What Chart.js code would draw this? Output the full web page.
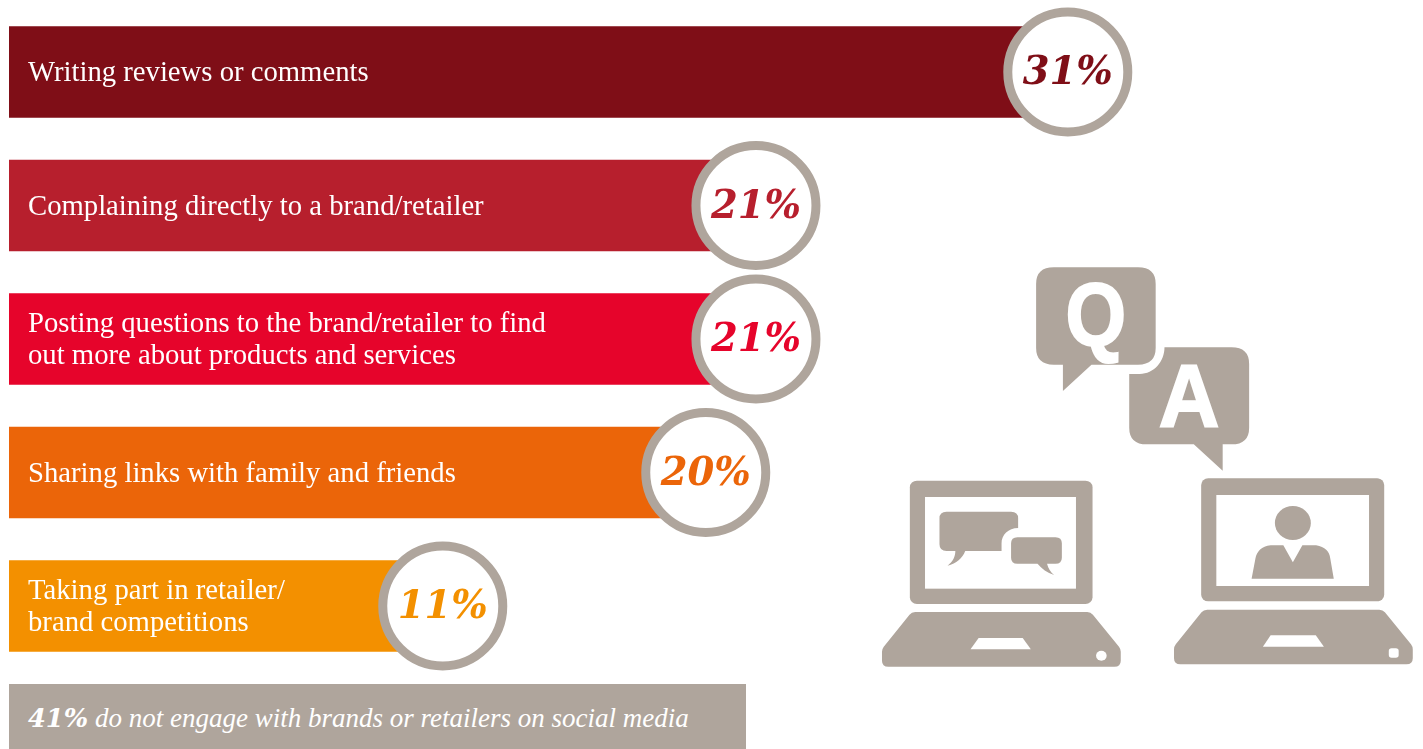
<!DOCTYPE html>
<html lang="en">
<head>
<meta charset="UTF-8">
<title>Engaging with brands on social media</title>
<script src="https://cdn.jsdelivr.net/npm/chart.js"></script>
<style>
    html, body { margin: 0; padding: 0; background: #fff; overflow: hidden; }
    #wrap { position: relative; width: 1423px; height: 749px; }
    #chart { position: absolute; left: 0; top: 0; }
    #note {
        position: absolute; left: 9px; top: 684px; width: 737px; height: 65px;
        line-height: 69px; background: #afa59c; color: #fff;
        font-family: "Liberation Serif", serif; font-style: italic; font-size: 27px;
        white-space: nowrap;
    }
    #note span { margin-left: 19px; }
    #note b { font-family: "DejaVu Serif", serif; font-size: 25.7px; }
    #icons { position: absolute; left: 870px; top: 250px; }
    #icons .g { fill: #afa59c; }
    #icons .w { fill: #fff; }
    #icons text {
        fill: #fff; stroke: #fff; stroke-width: 6px;
        font-family: "Liberation Sans", sans-serif; font-weight: bold; font-size: 268px; text-anchor: middle;
    }
</style>
</head>
<body>
<div id="wrap">
    <canvas id="chart" width="1423" height="749"></canvas>
    <div id="note"><span><b>41%</b> do not engage with brands or retailers on social media</span></div>

    <!-- illustration, units are the zoomed crop of the picture -->
    <svg id="icons" width="553" height="430" viewBox="0 0 1568 1290" preserveAspectRatio="none">
        <path class="g" d="M521 52H760Q810 52 810 102V294Q810 344 760 344H628L547 423V344H521Q471 344 471 294V102Q471 52 521 52Z"/>
        <text x="640" y="285" textLength="172" lengthAdjust="spacingAndGlyphs">Q</text>
        <path class="g" d="M835 292H1025Q1075 292 1075 342V533Q1075 583 1025 583H1000V662L918 583H785Q735 583 735 533V372H765C805 372 835 335 835 292Z"/>
        <text x="905" y="530" textLength="172" lengthAdjust="spacingAndGlyphs">A</text>

        <!-- left laptop -->
        <rect class="g" x="113" y="692" width="518" height="370" rx="20"/>
        <rect class="w" x="156" y="741" width="428" height="275"/>
        <path class="g" d="M217 785H400Q420 785 420 805V834C392 834 373 855 373 880V903H270C262 925 245 940 220 947C235 935 242 920 242 903H217Q197 903 197 883V805Q197 785 217 785Z"/>
        <path class="g" d="M418 862H526Q544 862 544 880V923Q544 941 526 941H502C505 955 512 966 522 975C502 968 487 956 475 941H418Q400 941 400 923V880Q400 862 418 862Z"/>
        <path id="base" class="g" d="M128 1086H616Q626 1086 632 1094L706 1190Q711 1197 711 1205V1232Q711 1250 693 1250H52Q34 1250 34 1232V1205Q34 1197 39 1190L112 1094Q118 1086 128 1086Z"/>
        <path class="w" d="M308 1164H433L456 1198H285Z"/>
        <circle class="w" cx="656" cy="1217" r="15"/>

        <!-- right laptop -->
        <rect class="g" x="939" y="685" width="519" height="369" rx="20"/>
        <rect class="w" x="982" y="735" width="433" height="273"/>
        <circle class="g" cx="1199" cy="819" r="51"/>
        <path class="g" d="M1136 886H1172L1199 937L1226 886H1265C1290 890 1303 905 1305 925L1315 986H1082L1093 925C1097 905 1110 888 1136 886Z"/>
        <use href="#base" x="828" y="-7"/>
        <path class="w" d="M1136 1156H1264L1287 1190H1114Z"/>
        <rect class="w" x="1471" y="1195" width="28" height="28" rx="8"/>
    </svg>
</div>

<script>
    const categories = [
        'Writing reviews or comments',
        'Complaining directly to a brand/retailer',
        ['Posting questions to the brand/retailer to find', 'out more about products and services'],
        'Sharing links with family and friends',
        ['Taking part in retailer/', 'brand competitions']
    ];
    // the printed percentages
    const shares = [31, 21, 21, 20, 11];
    // the bars are not printed to scale, this is how long each one is drawn, in percent units
    const drawnLengths = [31, 21.87, 21.87, 20.4, 12.7];
    const barColors = ['#7f0e17', '#b71f2d', '#e6042b', '#eb6509', '#f39000'];
    const ringColor = '#afa59c';

    // percent text in the middle of each ring
    const ringLabels = {
        id: 'ringLabels',
        afterDatasetsDraw(chart) {
            const ctx = chart.ctx;
            const points = chart.getDatasetMeta(1).data;
            ctx.save();
            ctx.font = 'italic bold 38.5px "DejaVu Serif", serif';
            ctx.textAlign = 'center';
            ctx.textBaseline = 'middle';
            points.forEach((pt, i) => {
                ctx.fillStyle = barColors[i];
                ctx.fillText(shares[i] + '%', pt.x, pt.y + 2);
            });
            ctx.restore();
        }
    };

    // this serif sits a bit high in the line, nudge the axis labels down
    const nudgeTicks = {
        id: 'nudgeTicks',
        afterLayout(chart) {
            chart.scales.y.getLabelItems().forEach(item => {
                item.options.translation[1] += 1.5;
            });
        }
    };

    new Chart(document.getElementById('chart'), {
        type: 'bar',
        data: {
            labels: categories,
            datasets: [
                {
                    data: drawnLengths,
                    backgroundColor: barColors,
                    barThickness: 91,
                    order: 2
                },
                {
                    type: 'line',
                    data: drawnLengths,
                    showLine: false,
                    pointRadius: 60,
                    pointBorderWidth: 9,
                    pointBackgroundColor: '#fff',
                    pointBorderColor: ringColor,
                    clip: false,
                    order: 1
                }
            ]
        },
        plugins: [ringLabels, nudgeTicks],
        options: {
            indexAxis: 'y',
            responsive: false,
            animation: false,
            layout: { autoPadding: false, padding: { left: 9, right: 0, top: 5.25, bottom: 76.25 } },
            plugins: { legend: { display: false }, tooltip: { enabled: false } },
            scales: {
                x: { display: false, min: 0, max: 41.4 },
                y: {
                    // labels sit inside the bars, the axis should take no room
                    afterFit(scale) {
                        scale.width = 0;
                        scale.paddingTop = 0;
                        scale.paddingBottom = 0;
                    },
                    grid: { display: false, drawTicks: false },
                    border: { display: false },
                    ticks: {
                        z: 1,
                        mirror: true,
                        padding: 19,
                        color: '#fff',
                        font: { family: '"Liberation Serif", serif', size: 28.7, lineHeight: 1.115 }
                    }
                }
            }
        }
    });
</script>
</body>
</html>
